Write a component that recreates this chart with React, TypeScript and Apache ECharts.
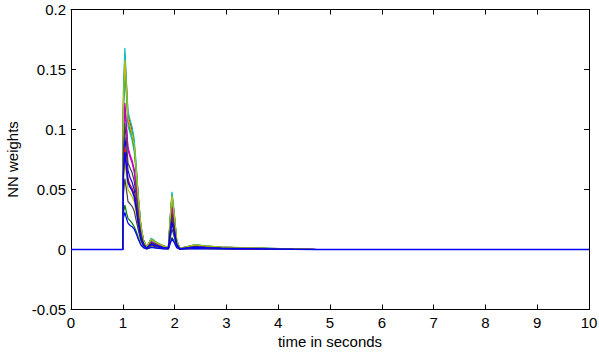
import React, { useEffect, useRef } from "react";
import * as echarts from "echarts";

const times = [0, 1.0, 1.01, 1.04, 1.07, 1.1, 1.14, 1.18, 1.22, 1.26, 1.3, 1.35, 1.4, 1.46, 1.55, 1.65, 1.78, 1.88, 1.92, 1.95, 1.99, 2.04, 2.1, 2.2, 2.4, 2.6, 2.9, 3.3, 3.8, 4.3, 4.75, 10];

const colors = ["#0000ff", "#008000", "#ff0000", "#00bfbf", "#bf00bf", "#bfbf00", "#404040"];

const w1 = [0, 0, 0.07, 0.094, 0.08, 0.066, 0.06, 0.056, 0.05, 0.038, 0.024, 0.011, 0.004, 0.001, 0.005, 0.003, 0.002, 0.001, 0.017, 0.027, 0.018, 0.004, 0.0005, 0.001, 0.002, 0.0015, 0.001, 0.0008, 0.0005, 0.0003, 0, 0];
const w2 = [0, 0, 0.03, 0.037, 0.031, 0.026, 0.024, 0.022, 0.019, 0.015, 0.01, 0.004, 0.0015, 0.0005, 0.002, 0.0013, 0.0007, 0.0004, 0.006, 0.01, 0.007, 0.002, 0.0002, 0.0004, 0.0009, 0.0007, 0.0004, 0.0003, 0.0002, 0.0001, 0, 0];
const w3 = [0, 0, 0.12, 0.162, 0.138, 0.112, 0.106, 0.099, 0.088, 0.067, 0.043, 0.019, 0.008, 0.002, 0.009, 0.0058, 0.003, 0.002, 0.029, 0.046, 0.031, 0.008, 0.001, 0.002, 0.0038, 0.0029, 0.0019, 0.0014, 0.001, 0.0005, 0, 0];
const w4 = [0, 0, 0.11, 0.15, 0.128, 0.103, 0.097, 0.091, 0.082, 0.062, 0.04, 0.018, 0.007, 0.002, 0.008, 0.0053, 0.0027, 0.0018, 0.027, 0.043, 0.029, 0.007, 0.001, 0.0018, 0.0036, 0.0027, 0.0018, 0.0013, 0.0009, 0.0004, 0, 0];
const w5 = [0, 0, 0.09, 0.122, 0.104, 0.085, 0.079, 0.074, 0.067, 0.051, 0.033, 0.015, 0.006, 0.0015, 0.0065, 0.0044, 0.0022, 0.0015, 0.022, 0.036, 0.024, 0.006, 0.0008, 0.0015, 0.003, 0.0022, 0.0015, 0.0011, 0.0007, 0.0004, 0, 0];
const w6 = [0, 0, 0.055, 0.073, 0.062, 0.05, 0.047, 0.044, 0.04, 0.03, 0.019, 0.0086, 0.0034, 0.0009, 0.004, 0.0026, 0.0013, 0.0009, 0.013, 0.021, 0.014, 0.0034, 0.0004, 0.0009, 0.0017, 0.0013, 0.0009, 0.0006, 0.0004, 0.0002, 0, 0];
const w7 = [0, 0, 0.045, 0.059, 0.05, 0.04, 0.038, 0.036, 0.032, 0.024, 0.016, 0.007, 0.0028, 0.0007, 0.0032, 0.0021, 0.001, 0.0007, 0.0105, 0.017, 0.011, 0.0028, 0.0004, 0.0007, 0.0014, 0.001, 0.0007, 0.0005, 0.0003, 0.0002, 0, 0];
const w8 = [0, 0, 0.026, 0.031, 0.026, 0.022, 0.02, 0.019, 0.017, 0.013, 0.0083, 0.0037, 0.0015, 0.0004, 0.0017, 0.0011, 0.0006, 0.0004, 0.0055, 0.009, 0.006, 0.0015, 0.0002, 0.0004, 0.0007, 0.0006, 0.0004, 0.0003, 0.0002, 0.0001, 0, 0];
const w9 = [0, 0, 0.115, 0.156, 0.132, 0.108, 0.1, 0.095, 0.085, 0.065, 0.042, 0.019, 0.0074, 0.0019, 0.0085, 0.0056, 0.0028, 0.0019, 0.028, 0.045, 0.03, 0.0074, 0.0009, 0.0019, 0.0037, 0.0028, 0.0019, 0.0014, 0.0009, 0.0005, 0, 0];
const w10 = [0, 0, 0.064, 0.085, 0.072, 0.059, 0.054, 0.051, 0.046, 0.035, 0.022, 0.01, 0.004, 0.001, 0.0045, 0.003, 0.0015, 0.001, 0.015, 0.024, 0.016, 0.004, 0.0005, 0.001, 0.002, 0.0015, 0.001, 0.0007, 0.0005, 0.0003, 0, 0];
const w11 = [0, 0, 0.13, 0.168, 0.14, 0.115, 0.108, 0.102, 0.092, 0.07, 0.045, 0.02, 0.008, 0.002, 0.0095, 0.006, 0.003, 0.002, 0.03, 0.048, 0.032, 0.008, 0.001, 0.002, 0.004, 0.003, 0.002, 0.0015, 0.001, 0.0005, 0, 0];
const w12 = [0, 0, 0.088, 0.119, 0.101, 0.083, 0.077, 0.072, 0.065, 0.05, 0.032, 0.014, 0.0058, 0.0014, 0.0064, 0.0042, 0.0021, 0.0014, 0.021, 0.035, 0.023, 0.0058, 0.0007, 0.0014, 0.0029, 0.0021, 0.0014, 0.0011, 0.0007, 0.0004, 0, 0];
const w13 = [0, 0, 0.118, 0.158, 0.134, 0.109, 0.102, 0.096, 0.087, 0.066, 0.042, 0.019, 0.0075, 0.0019, 0.0086, 0.0056, 0.0028, 0.0019, 0.028, 0.045, 0.03, 0.0075, 0.0009, 0.0019, 0.0038, 0.0028, 0.0019, 0.0014, 0.0009, 0.0005, 0, 0];
const w14 = [0, 0, 0.078, 0.105, 0.09, 0.072, 0.068, 0.064, 0.057, 0.044, 0.028, 0.0125, 0.005, 0.0012, 0.0057, 0.0037, 0.0019, 0.0012, 0.019, 0.03, 0.02, 0.005, 0.0006, 0.0012, 0.0025, 0.0019, 0.0012, 0.0009, 0.0006, 0.0003, 0, 0];
const w15 = [0, 0, 0.062, 0.081, 0.069, 0.056, 0.052, 0.049, 0.044, 0.034, 0.022, 0.0096, 0.0038, 0.001, 0.0044, 0.0029, 0.0014, 0.001, 0.0145, 0.023, 0.015, 0.0038, 0.0005, 0.001, 0.0019, 0.0014, 0.001, 0.0007, 0.0005, 0.0002, 0, 0];

const weights = [w1, w2, w3, w4, w5, w6, w7, w8, w9, w10, w11, w12, w13, w14, w15];

const FONT = "Liberation Sans";
const FS = 15;

export default function App() {
  const ref = useRef<HTMLDivElement>(null);
  useEffect(() => {
    const chart = echarts.init(ref.current!, undefined, { renderer: "svg" });
    const n = weights.length;
    const series = weights.map((w, i) => ({
      type: "line",
      name: "w" + (i + 1),
      showSymbol: false,
      symbol: "none",
      lineStyle: { width: i === n - 1 ? 1.5 : 1.2, color: colors[i % colors.length] },
      itemStyle: { color: colors[i % colors.length] },
      data: times.map((t, j) => [t, w[j]]),
      z: 2,
      z2: i === n - 1 ? 10 : 0,
    }));
    const axisLine = { show: true, onZero: false, lineStyle: { color: "#000", width: 1 } };
    const tick = { show: true, inside: true, length: 5, lineStyle: { color: "#000" } };
    chart.setOption({
      animation: false,
      backgroundColor: "#fff",
      grid: {
        left: 71,
        top: 9.5,
        width: 518,
        height: 300,
        show: false,
        containLabel: false,
        outerBoundsMode: "none",
      },
      xAxis: [
        {
          type: "value",
          min: 0,
          max: 10,
          interval: 1,
          position: "bottom",
          name: "time in seconds",
          nameLocation: "middle",
          nameGap: 23,
          nameTextStyle: { fontFamily: FONT, fontSize: FS, color: "#000" },
          axisLine,
          axisTick: tick,
          axisLabel: { fontFamily: FONT, fontSize: FS, color: "#000", margin: 5 },
          splitLine: { show: false },
        },
        {
          type: "value",
          min: 0,
          max: 10,
          interval: 1,
          position: "top",
          axisLine,
          axisTick: tick,
          axisLabel: { show: false },
          splitLine: { show: false },
        },
      ],
      yAxis: [
        {
          type: "value",
          min: -0.05,
          max: 0.2,
          interval: 0.05,
          position: "left",
          name: "NN weights",
          nameLocation: "middle",
          nameGap: 51,
          nameRotate: 90,
          nameTextStyle: { fontFamily: FONT, fontSize: FS, color: "#000" },
          axisLine,
          axisTick: tick,
          axisLabel: { fontFamily: FONT, fontSize: FS, color: "#000", margin: 5 },
          splitLine: { show: false },
        },
        {
          type: "value",
          min: -0.05,
          max: 0.2,
          interval: 0.05,
          position: "right",
          axisLine,
          axisTick: tick,
          axisLabel: { show: false },
          splitLine: { show: false },
        },
      ],
      series,
    });
    return () => chart.dispose();
  }, []);
  return (
    <div
      ref={ref}
      style={{ position: "fixed", left: 0, top: 0, width: 599, height: 354, background: "#fff" }}
    />
  );
}
